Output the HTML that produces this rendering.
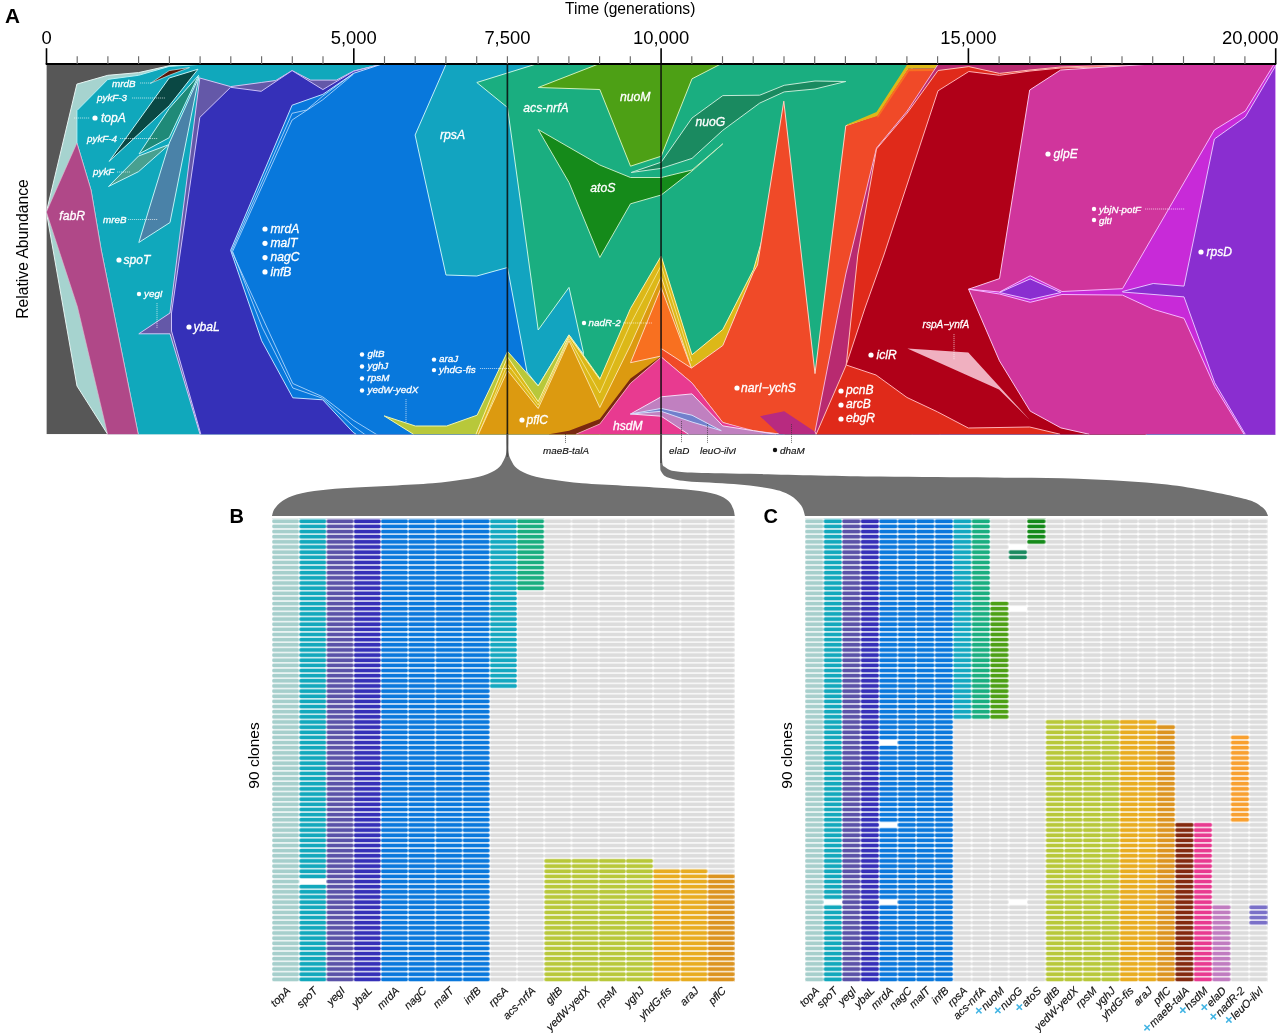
<!DOCTYPE html>
<html><head><meta charset="utf-8"><title>Figure</title>
<style>
html,body{margin:0;padding:0;background:#fff}
body{width:1280px;height:1033px;overflow:hidden}
svg{display:block}
svg text{font-family:"Liberation Sans",Arial,Helvetica,sans-serif}
.g{font-style:italic;fill:#fff;stroke:#fff;stroke-width:0.3px}
.k{font-style:italic;fill:#111;stroke:#111;stroke-width:0.15px}
</style></head><body>
<svg width="1280" height="1033" viewBox="0 0 1280 1033">
<rect width="1280" height="1033" fill="#fff"/>
<defs><clipPath id="pc"><rect x="46.4" y="64.4" width="1229.1" height="369.79999999999995"/></clipPath>
<pattern id="pb" patternUnits="userSpaceOnUse" x="272.00" y="518.70" width="27.224" height="5.1467"><path fill="#fff" fill-rule="evenodd" d="M0 0H27.224V5.1467H0Z M1.59 0.65H25.63Q27.03 0.65 27.03 2.05V3.10Q27.03 4.50 25.63 4.50H1.59Q0.19 4.50 0.19 3.10V2.05Q0.19 0.65 1.59 0.65Z"/></pattern>
<pattern id="pcg" patternUnits="userSpaceOnUse" x="805.10" y="518.70" width="18.504" height="5.1467"><path fill="#fff" fill-rule="evenodd" d="M0 0H18.504V5.1467H0Z M1.59 0.65H16.91Q18.31 0.65 18.31 2.05V3.10Q18.31 4.50 16.91 4.50H1.59Q0.19 4.50 0.19 3.10V2.05Q0.19 0.65 1.59 0.65Z"/></pattern>
</defs>
<g clip-path="url(#pc)" stroke-linejoin="round">
<rect x="46.4" y="64.4" width="1229.1" height="369.79999999999995" fill="#575757"/>
<polygon points="46.4,212.0 76.9,84.1 107.8,75.3 138.6,72.6 169.2,65.8 193.0,64.4 193.0,60.4 1275.5,60.4 1275.5,64.4 1275.5,434.2 1275.5,438.2 107.6,438.2 107.6,434.2 77.0,386.0" fill="#a6d3cf" stroke="#e6f4f2" stroke-width="1.0"/>
<polygon points="76.9,110.6 107.8,79.4 138.6,75.3 169.2,66.4 200.0,64.4 200.0,60.4 1275.5,60.4 1275.5,64.4 1275.5,434.2 1275.5,438.2 138.2,438.2 138.2,434.2 101.2,250.0 91.0,190.0 76.9,143.0" fill="#10a8bc" stroke="#b6f0f5" stroke-width="1.0"/>
<polygon points="46.4,212.0 76.9,143.0 91.0,190.0 101.2,250.0 138.2,434.2 138.2,438.2 107.6,438.2 107.6,434.2 77.5,307.0" fill="#b04888" stroke="#e5b6d0" stroke-width="0.6"/>
<polygon points="150.5,83.3 169.2,70.6 189.5,67.5 169.2,75.3" fill="#5a1808" stroke="#c0f1f5" stroke-width="0.7"/>
<polygon points="109.1,161.4 169.2,78.0 198.0,69.2 169.2,105.8" fill="#0a4844" stroke="#c0f1f5" stroke-width="1.0"/>
<polygon points="139.0,154.0 169.2,108.5 198.6,75.3 169.2,137.7" fill="#1f8a78" stroke="#c0f1f5" stroke-width="1.0"/>
<polygon points="108.5,186.5 138.6,156.0 169.2,144.5 138.6,171.6" fill="#48a090" stroke="#c0f1f5" stroke-width="1.0"/>
<polygon points="138.8,242.5 169.3,143.0 199.0,76.7 170.0,222.5" fill="#4a82a8" stroke="#c0f1f5" stroke-width="1.0"/>
<polygon points="199.8,78.0 230.6,86.6 261.2,82.5 275.7,80.5 292.1,70.6 310.7,80.1 336.4,80.1 353.6,71.0 381.0,64.4 381.0,60.4 1275.5,60.4 1275.5,64.4 1275.5,434.2 1275.5,438.2 200.0,438.2 200.0,434.2 170.0,333.8 138.8,333.8 170.0,313.0" fill="#6458a8" stroke="#d1c6f5" stroke-width="1.0"/>
<polygon points="199.8,117.4 230.6,87.3 261.2,91.3 292.1,70.6 322.9,89.6 353.6,71.3 381.0,64.4 381.0,60.4 1275.5,60.4 1275.5,64.4 1275.5,434.2 1275.5,438.2 200.8,438.2 200.8,434.2 171.5,331.0 171.5,313.0" fill="#3530b8" stroke="#cbc1fa" stroke-width="1.0"/>
<polygon points="230.6,250.3 292.1,105.2 322.9,94.3 353.6,73.3 381.0,64.4 381.0,60.4 1275.5,60.4 1275.5,64.4 1275.5,434.2 1275.5,438.2 356.0,438.2 356.0,434.2 353.2,432.4 322.7,399.8 292.8,397.8 261.7,340.8" fill="#0878dc" stroke="#c0e0ff" stroke-width="1.0"/>
<polyline points="382.7,438.2 353.2,420.2 322.7,396.8 292.8,383.5 231.6,251.0 292.1,113.3 306.6,110.0 322.9,96.0 353.6,73.3" fill="none" stroke="#c0e0ff" stroke-width="0.8"/>
<polyline points="370.0,438.2 353.2,426.0 322.7,398.3 292.8,388.0 262.0,327.0 232.6,251.5 292.1,120.0 322.9,99.7 353.6,74.0" fill="none" stroke="#c0e0ff" stroke-width="0.8"/>
<polygon points="446.0,64.4 446.0,60.4 600.0,60.4 600.0,64.4 600.0,300.0 583.3,354.0 569.0,334.9 538.2,386.0 527.0,372.0 507.5,267.5 476.8,276.0 446.0,275.0 415.1,135.0" fill="#12a4c0" stroke="#c1f0f7" stroke-width="1.0"/>
<polygon points="476.8,82.5 535.0,64.4 535.0,60.4 912.0,60.4 912.0,64.4 912.0,434.2 912.0,438.2 583.0,438.2 583.0,434.2 583.3,352.0 569.0,287.4 538.2,330.0 507.5,107.5" fill="#1aae80" stroke="#c6f5e0" stroke-width="1.0"/>
<polygon points="538.2,87.5 597.5,64.4 597.5,60.4 720.0,60.4 720.0,64.4 692.0,78.8 661.2,156.2 630.5,166.2 599.8,89.5" fill="#4da015" stroke="#d0f0b6" stroke-width="1.0"/>
<polygon points="538.2,129.5 599.8,165.0 630.5,177.5 661.2,177.5 692.0,170.0 722.8,143.8 692.0,171.0 661.2,195.0 630.5,203.8 599.8,257.5 569.0,182.5" fill="#158a1a" stroke="#c1eac1" stroke-width="1.0"/>
<polygon points="631.2,172.5 661.2,162.2 692.0,118.0 722.8,95.6 759.7,95.2 784.2,85.3 815.0,81.0 845.8,81.5 815.0,89.0 784.2,91.9 759.7,103.1 722.8,130.3 692.0,158.4 661.2,168.4" fill="#1a8a60" stroke="#c1ead6" stroke-width="1.0"/>
<polygon points="384.2,415.9 415.4,426.0 446.6,426.0 477.1,415.2 507.6,351.5 538.2,386.0 569.0,334.9 599.8,378.4 599.8,434.2 599.8,438.2 413.4,438.2 413.4,434.2" fill="#b8c83a" stroke="#f0f5b1" stroke-width="1.0"/>
<polygon points="476.0,434.2 507.6,357.0 538.2,401.7 569.0,336.2 599.8,379.4 630.5,308.5 661.2,256.0 692.0,354.8 722.8,329.5 753.5,269.5 762.0,240.0 762.0,434.2 762.0,438.2 476.0,438.2" fill="#dcb818" stroke="#faf0ac" stroke-width="1.0"/>
<polyline points="477.0,438.2 507.6,364.0 538.2,405.0 569.0,338.5 599.8,393.0 630.5,324.0 661.2,265.5 691.7,361.0" fill="none" stroke="#faf0ac" stroke-width="0.7"/>
<polygon points="478.5,434.2 507.6,370.5 538.2,408.5 569.0,340.7 599.8,407.5 630.5,345.0 661.2,276.6 691.4,368.1 661.2,356.2 661.2,434.2 661.2,438.2 478.5,438.2" fill="#dc9a10" stroke="#fae0a2" stroke-width="1.0"/>
<polygon points="630.5,362.7 661.2,287.5 691.4,368.1 661.2,356.0" fill="#f87020" stroke="#ffd6b6" stroke-width="1.0"/>
<polygon points="661.2,348.5 691.4,368.1 722.8,345.5 753.5,272.0 757.5,265.0 783.8,101.2 815.0,373.6 845.8,125.7 876.5,115.0 907.2,69.5 940.0,69.5 940.0,434.2 940.0,438.2 784.2,438.2 784.2,434.2 753.5,431.7 722.8,422.5 692.0,383.0 661.2,357.0" fill="#f04a28" stroke="#ffd0c1" stroke-width="1.0"/>
<polygon points="847.0,124.5 876.5,112.0 907.2,64.4 907.2,60.4 938.0,60.4 938.0,64.4 935.5,68.2 908.2,68.6 877.2,116.0 847.0,125.5" fill="#dcb818"/>
<polygon points="877.2,116.0 908.2,68.6 935.5,68.2 933.5,71.0 909.0,71.2 877.8,118.0" fill="#f87020"/>
<polygon points="549.0,434.2 569.0,430.7 599.8,419.0 630.5,378.4 661.2,356.2 661.2,357.0 630.5,383.3 599.8,424.0 576.0,434.2 576.0,438.2 549.0,438.2" fill="#7a2810"/>
<polygon points="576.0,434.2 599.8,424.0 630.5,383.3 661.2,357.0 692.0,383.0 722.8,422.5 753.5,430.7 780.0,434.2 780.0,438.2 576.0,438.2" fill="#e83a90" stroke="#fac6e0" stroke-width="0.7"/>
<polygon points="630.5,414.0 661.2,396.8 692.0,393.9 722.8,425.9 753.5,430.7 775.5,434.2 775.5,438.2 688.4,438.2 688.4,434.2 661.2,416.2" fill="#c080c0" stroke="#f5dbf5" stroke-width="1.0"/>
<polygon points="630.5,414.0 661.2,408.4 692.0,415.2 721.3,430.7 692.0,422.0 661.2,411.3" fill="#7080cc" stroke="#d6dbfa" stroke-width="1.0"/>
<polygon points="760.0,416.2 784.2,411.3 815.0,431.7 815.0,434.2 815.0,438.2 779.4,438.2 779.4,434.2" fill="#b82a80"/>
<polygon points="815.0,431.7 845.8,274.0 876.5,148.0 907.2,111.0 938.0,64.4 938.0,60.4 1146.0,60.4 1146.0,64.4 1146.0,434.2 1146.0,438.2 816.2,438.2 816.2,434.2" fill="#b82a70" stroke="#f5b1d6" stroke-width="1.0"/>
<polygon points="816.2,434.2 840.0,379.4 846.2,365.0 857.8,255.0 876.5,149.0 907.2,113.0 938.0,70.5 968.8,66.6 999.5,73.4 1030.0,70.0 1060.6,67.0 1146.0,64.4 1146.0,434.2 1146.0,438.2 816.2,438.2" fill="#e02a1a" stroke="#ffbdb6" stroke-width="1.0"/>
<polygon points="846.2,365.0 865.0,308.0 883.9,255.0 938.0,90.8 968.8,71.5 999.5,75.3 1030.0,71.0 1060.6,68.0 1146.0,66.0 1146.0,434.2 1146.0,438.2 1060.0,438.2 1060.0,434.2 1029.7,427.0 968.3,428.0 937.4,411.8 907.0,397.5 876.0,375.0" fill="#b00018" stroke="#ffb1b6" stroke-width="1.0"/>
<polygon points="907.4,348.6 968.3,352.4 1029.7,419.8 999.0,389.5" fill="#f0b0c0"/>
<polygon points="968.6,289.2 999.5,278.6 1029.7,90.0 1060.6,70.0 1146.0,64.4 1146.0,60.4 1275.5,60.4 1275.5,64.4 1275.5,434.2 1275.5,438.2 1089.0,438.2 1089.0,434.2 1060.9,427.9 1030.2,411.1 999.5,360.9" fill="#d0359c" stroke="#fac1ea" stroke-width="1.0"/>
<polygon points="968.6,289.2 999.5,292.0 1030.2,275.8 1062.0,291.5 1122.5,288.7 1214.4,130.0 1245.3,111.0 1274.0,64.4 1274.0,60.4 1275.5,60.4 1275.5,64.4 1275.5,434.2 1275.5,438.2 1244.0,438.2 1244.0,434.2 1214.7,386.6 1184.0,318.3 1153.2,309.3 1122.5,295.1 1062.0,294.5 1030.2,302.3 999.5,294.0" fill="#c82ad8" stroke="#f5b6ff" stroke-width="1.0"/>
<polygon points="1122.5,291.5 1153.2,283.5 1184.0,286.1 1214.4,139.0 1245.3,117.0 1275.5,66.0 1275.5,434.2 1275.5,438.2 1245.2,438.2 1245.2,434.2 1214.7,382.8 1184.0,296.9 1122.5,292.0" fill="#8a2ed0" stroke="#e5c1ff" stroke-width="1.0"/>
<polygon points="999.5,292.5 1030.2,278.9 1060.9,292.5 1030.2,299.5" fill="#8a2ed0" stroke="#e5c1ff" stroke-width="1.0"/>
</g>
<g stroke="#000">
<line x1="45.699999999999996" y1="64.05" x2="1276.2" y2="64.05" stroke-width="1.9"/>
<line x1="46.5" y1="48.2" x2="46.5" y2="64" stroke-width="1.6"/>
<line x1="77.2" y1="56.2" x2="77.2" y2="64" stroke="#6a6a6a" stroke-width="1.15"/>
<line x1="107.9" y1="56.2" x2="107.9" y2="64" stroke="#6a6a6a" stroke-width="1.15"/>
<line x1="138.6" y1="56.2" x2="138.6" y2="64" stroke="#6a6a6a" stroke-width="1.15"/>
<line x1="169.4" y1="56.2" x2="169.4" y2="64" stroke="#6a6a6a" stroke-width="1.15"/>
<line x1="200.1" y1="56.2" x2="200.1" y2="64" stroke="#6a6a6a" stroke-width="1.15"/>
<line x1="230.8" y1="56.2" x2="230.8" y2="64" stroke="#6a6a6a" stroke-width="1.15"/>
<line x1="261.6" y1="56.2" x2="261.6" y2="64" stroke="#6a6a6a" stroke-width="1.15"/>
<line x1="292.3" y1="56.2" x2="292.3" y2="64" stroke="#6a6a6a" stroke-width="1.15"/>
<line x1="323.0" y1="56.2" x2="323.0" y2="64" stroke="#6a6a6a" stroke-width="1.15"/>
<line x1="353.8" y1="48.2" x2="353.8" y2="64" stroke-width="1.6"/>
<line x1="384.5" y1="56.2" x2="384.5" y2="64" stroke="#6a6a6a" stroke-width="1.15"/>
<line x1="415.2" y1="56.2" x2="415.2" y2="64" stroke="#6a6a6a" stroke-width="1.15"/>
<line x1="445.9" y1="56.2" x2="445.9" y2="64" stroke="#6a6a6a" stroke-width="1.15"/>
<line x1="476.7" y1="56.2" x2="476.7" y2="64" stroke="#6a6a6a" stroke-width="1.15"/>
<line x1="507.4" y1="56.2" x2="507.4" y2="64" stroke="#6a6a6a" stroke-width="1.15"/>
<line x1="538.1" y1="56.2" x2="538.1" y2="64" stroke="#6a6a6a" stroke-width="1.15"/>
<line x1="568.9" y1="56.2" x2="568.9" y2="64" stroke="#6a6a6a" stroke-width="1.15"/>
<line x1="599.6" y1="56.2" x2="599.6" y2="64" stroke="#6a6a6a" stroke-width="1.15"/>
<line x1="630.3" y1="56.2" x2="630.3" y2="64" stroke="#6a6a6a" stroke-width="1.15"/>
<line x1="661.1" y1="48.2" x2="661.1" y2="64" stroke-width="1.6"/>
<line x1="691.8" y1="56.2" x2="691.8" y2="64" stroke="#6a6a6a" stroke-width="1.15"/>
<line x1="722.5" y1="56.2" x2="722.5" y2="64" stroke="#6a6a6a" stroke-width="1.15"/>
<line x1="753.2" y1="56.2" x2="753.2" y2="64" stroke="#6a6a6a" stroke-width="1.15"/>
<line x1="784.0" y1="56.2" x2="784.0" y2="64" stroke="#6a6a6a" stroke-width="1.15"/>
<line x1="814.7" y1="56.2" x2="814.7" y2="64" stroke="#6a6a6a" stroke-width="1.15"/>
<line x1="845.4" y1="56.2" x2="845.4" y2="64" stroke="#6a6a6a" stroke-width="1.15"/>
<line x1="876.2" y1="56.2" x2="876.2" y2="64" stroke="#6a6a6a" stroke-width="1.15"/>
<line x1="906.9" y1="56.2" x2="906.9" y2="64" stroke="#6a6a6a" stroke-width="1.15"/>
<line x1="937.6" y1="56.2" x2="937.6" y2="64" stroke="#6a6a6a" stroke-width="1.15"/>
<line x1="968.4" y1="48.2" x2="968.4" y2="64" stroke-width="1.6"/>
<line x1="999.1" y1="56.2" x2="999.1" y2="64" stroke="#6a6a6a" stroke-width="1.15"/>
<line x1="1029.8" y1="56.2" x2="1029.8" y2="64" stroke="#6a6a6a" stroke-width="1.15"/>
<line x1="1060.5" y1="56.2" x2="1060.5" y2="64" stroke="#6a6a6a" stroke-width="1.15"/>
<line x1="1091.3" y1="56.2" x2="1091.3" y2="64" stroke="#6a6a6a" stroke-width="1.15"/>
<line x1="1122.0" y1="56.2" x2="1122.0" y2="64" stroke="#6a6a6a" stroke-width="1.15"/>
<line x1="1152.7" y1="56.2" x2="1152.7" y2="64" stroke="#6a6a6a" stroke-width="1.15"/>
<line x1="1183.5" y1="56.2" x2="1183.5" y2="64" stroke="#6a6a6a" stroke-width="1.15"/>
<line x1="1214.2" y1="56.2" x2="1214.2" y2="64" stroke="#6a6a6a" stroke-width="1.15"/>
<line x1="1244.9" y1="56.2" x2="1244.9" y2="64" stroke="#6a6a6a" stroke-width="1.15"/>
<line x1="1275.7" y1="48.2" x2="1275.7" y2="64" stroke-width="1.6"/>
</g>
<path fill="#707070" d="M506.54999999999995 433 L506.54999999999995 442 C506.5 443.7 506.9 449.1 506.4 452.2 C505.9 455.2 505.1 457.6 503.7 460.3 C502.2 463.0 501.1 465.9 497.7 468.4 C494.3 470.9 489.2 473.6 483.4 475.5 C477.6 477.4 471.6 478.3 463.1 479.6 C454.7 480.9 444.6 482.3 432.7 483.3 C420.8 484.3 405.6 485.0 392.0 485.7 C378.4 486.4 363.2 486.9 351.4 487.7 C339.5 488.4 330.0 489.1 320.9 490.2 C311.8 491.3 303.0 492.6 296.6 494.4 C290.2 496.2 286.0 498.4 282.3 500.9 C278.6 503.3 276.1 506.6 274.4 509.1 C272.7 511.6 272.4 514.9 272.0 516.0 L734.8 516 C734.5 514.9 734.3 511.6 733.3 509.1 C732.2 506.6 731.3 503.3 728.5 500.9 C725.7 498.4 722.4 496.2 716.5 494.4 C710.6 492.6 701.9 491.3 693.0 490.2 C684.1 489.1 675.1 488.6 663.4 487.9 C651.7 487.1 636.3 486.5 622.8 485.7 C609.2 484.9 594.0 484.3 582.1 483.3 C570.2 482.3 560.2 480.9 551.7 479.6 C543.2 478.3 537.2 477.4 531.4 475.5 C525.6 473.6 520.5 470.9 517.1 468.4 C513.7 465.9 512.6 463.0 511.1 460.3 C509.7 457.6 508.9 455.2 508.4 452.2 C507.9 449.1 508.3 443.7 508.2 442.0 L508.25 433Z"/>
<path fill="#707070" d="M662.0500000000001 433 L662.0500000000001 440 C662.1 443.8 661.8 458.0 662.3 462.5 C662.8 467.0 663.4 465.8 665.3 467.2 C667.2 468.6 668.6 470.1 673.8 471.0 C678.9 471.9 681.9 472.3 696.2 472.8 C710.6 473.3 729.4 473.5 760.0 474.1 C790.6 474.7 841.7 476.0 880.0 476.6 C918.3 477.2 957.0 477.2 990.0 477.6 C1023.0 478.0 1048.5 477.6 1078.0 478.8 C1107.5 480.0 1139.8 481.4 1167.0 484.6 C1194.2 487.8 1225.2 494.3 1241.0 498.0 C1256.8 501.7 1257.5 504.0 1262.0 507.0 C1266.5 510.0 1267.2 514.5 1268.2 516.0 L805 516 C804.4 514.3 803.8 509.1 801.2 505.6 C798.8 502.2 795.0 498.1 790.0 495.3 C785.0 492.5 780.6 490.6 771.2 488.8 C761.9 486.9 747.8 485.2 733.8 484.0 C719.7 482.8 698.0 482.3 687.0 481.2 C676.0 480.2 672.2 479.1 668.0 477.5 C663.8 475.9 662.8 473.9 661.5 471.9 C660.2 469.9 660.4 470.6 660.2 465.3 C660.0 460.0 660.3 444.2 660.4 440.0 L660.35 433Z"/>
<line x1="507.40" y1="64" x2="507.40" y2="434.2" stroke="#0b0b0b" stroke-width="1.65" opacity="0.85"/>
<line x1="507.40" y1="434.2" x2="507.40" y2="457" stroke="#4d4d4d" stroke-width="1.7"/>
<line x1="661.05" y1="64" x2="661.05" y2="434.2" stroke="#0b0b0b" stroke-width="1.65" opacity="0.85"/>
<line x1="661.05" y1="434.2" x2="661.05" y2="463" stroke="#4d4d4d" stroke-width="1.7"/>
<rect x="272.00" y="518.70" width="462.80" height="463.20" fill="#dcdcdc"/>
<rect x="272.00" y="518.70" width="27.22" height="463.20" fill="#a6cfcc"/>
<rect x="299.22" y="518.70" width="27.22" height="463.20" fill="#12a8bc"/>
<rect x="299.22" y="878.97" width="27.22" height="5.15" fill="#fff"/>
<rect x="326.45" y="518.70" width="27.22" height="463.20" fill="#5a52a8"/>
<rect x="353.67" y="518.70" width="27.22" height="463.20" fill="#3530b8"/>
<rect x="380.89" y="518.70" width="27.22" height="463.20" fill="#0a78dc"/>
<rect x="408.12" y="518.70" width="27.22" height="463.20" fill="#0a78dc"/>
<rect x="435.34" y="518.70" width="27.22" height="463.20" fill="#0a78dc"/>
<rect x="462.56" y="518.70" width="27.22" height="463.20" fill="#0a78dc"/>
<rect x="489.79" y="518.70" width="27.22" height="169.84" fill="#14a8c0"/>
<rect x="517.01" y="518.70" width="27.22" height="72.05" fill="#1aae80"/>
<rect x="544.24" y="858.38" width="27.22" height="123.52" fill="#b8c83a"/>
<rect x="571.46" y="858.38" width="27.22" height="123.52" fill="#b8c83a"/>
<rect x="598.68" y="858.38" width="27.22" height="123.52" fill="#b8c83a"/>
<rect x="625.91" y="858.38" width="27.22" height="123.52" fill="#b8c83a"/>
<rect x="653.13" y="868.67" width="27.22" height="113.23" fill="#e8ac20"/>
<rect x="680.35" y="868.67" width="27.22" height="113.23" fill="#e8ac20"/>
<rect x="707.58" y="873.82" width="27.22" height="108.08" fill="#dc9420"/>
<rect x="272.00" y="518.70" width="462.80" height="463.20" fill="url(#pb)"/>
<rect x="805.10" y="518.70" width="462.60" height="463.20" fill="#dcdcdc"/>
<rect x="805.10" y="518.70" width="18.50" height="463.20" fill="#a6cfcc"/>
<rect x="823.60" y="518.70" width="18.50" height="463.20" fill="#12a8bc"/>
<rect x="823.60" y="899.55" width="18.50" height="5.15" fill="#fff"/>
<rect x="842.11" y="518.70" width="18.50" height="463.20" fill="#5a52a8"/>
<rect x="860.61" y="518.70" width="18.50" height="463.20" fill="#3530b8"/>
<rect x="879.12" y="518.70" width="18.50" height="463.20" fill="#0a78dc"/>
<rect x="879.12" y="740.01" width="18.50" height="5.15" fill="#fff"/>
<rect x="879.12" y="822.35" width="18.50" height="5.15" fill="#fff"/>
<rect x="879.12" y="899.55" width="18.50" height="5.15" fill="#fff"/>
<rect x="897.62" y="518.70" width="18.50" height="463.20" fill="#0a78dc"/>
<rect x="916.12" y="518.70" width="18.50" height="463.20" fill="#0a78dc"/>
<rect x="934.63" y="518.70" width="18.50" height="463.20" fill="#0a78dc"/>
<rect x="953.13" y="518.70" width="18.50" height="200.72" fill="#14a8c0"/>
<rect x="971.64" y="518.70" width="18.50" height="200.72" fill="#1aae80"/>
<rect x="990.14" y="601.05" width="18.50" height="118.37" fill="#4da015"/>
<rect x="1008.64" y="549.58" width="18.50" height="10.29" fill="#1a8a60"/>
<rect x="1008.64" y="544.43" width="18.50" height="5.15" fill="#fff"/>
<rect x="1008.64" y="606.19" width="18.50" height="5.15" fill="#fff"/>
<rect x="1008.64" y="899.55" width="18.50" height="5.15" fill="#fff"/>
<rect x="1027.15" y="518.70" width="18.50" height="25.73" fill="#158a1a"/>
<rect x="1045.65" y="719.42" width="18.50" height="262.48" fill="#b8c83a"/>
<rect x="1064.16" y="719.42" width="18.50" height="262.48" fill="#b8c83a"/>
<rect x="1082.66" y="719.42" width="18.50" height="262.48" fill="#b8c83a"/>
<rect x="1101.16" y="719.42" width="18.50" height="262.48" fill="#b8c83a"/>
<rect x="1119.67" y="719.42" width="18.50" height="262.48" fill="#e8ac20"/>
<rect x="1138.17" y="719.42" width="18.50" height="262.48" fill="#e8ac20"/>
<rect x="1156.68" y="724.57" width="18.50" height="257.33" fill="#dc9420"/>
<rect x="1175.18" y="822.35" width="18.50" height="159.55" fill="#84290f"/>
<rect x="1193.68" y="822.35" width="18.50" height="159.55" fill="#e83a90"/>
<rect x="1212.19" y="904.70" width="18.50" height="77.20" fill="#c07cc0"/>
<rect x="1230.69" y="734.86" width="18.50" height="87.49" fill="#f8a030"/>
<rect x="1249.20" y="904.70" width="18.50" height="20.59" fill="#7a70c8"/>
<rect x="805.10" y="518.70" width="462.60" height="463.20" fill="url(#pcg)"/>
<text class="k" font-size="11" text-anchor="end" transform="translate(291.1,991.4) rotate(-45)">topA</text>
<text class="k" font-size="11" text-anchor="end" transform="translate(318.3,991.4) rotate(-45)">spoT</text>
<text class="k" font-size="11" text-anchor="end" transform="translate(345.6,991.4) rotate(-45)">yegI</text>
<text class="k" font-size="11" text-anchor="end" transform="translate(372.8,991.4) rotate(-45)">ybaL</text>
<text class="k" font-size="11" text-anchor="end" transform="translate(400.0,991.4) rotate(-45)">mrdA</text>
<text class="k" font-size="11" text-anchor="end" transform="translate(427.2,991.4) rotate(-45)">nagC</text>
<text class="k" font-size="11" text-anchor="end" transform="translate(454.5,991.4) rotate(-45)">malT</text>
<text class="k" font-size="11" text-anchor="end" transform="translate(481.7,991.4) rotate(-45)">infB</text>
<text class="k" font-size="11" text-anchor="end" transform="translate(508.9,991.4) rotate(-45)">rpsA</text>
<text class="k" font-size="11" text-anchor="end" transform="translate(536.1,991.4) rotate(-45)">acs-nrfA</text>
<text class="k" font-size="11" text-anchor="end" transform="translate(563.3,991.4) rotate(-45)">gltB</text>
<text class="k" font-size="11" text-anchor="end" transform="translate(590.6,991.4) rotate(-45)">yedW-yedX</text>
<text class="k" font-size="11" text-anchor="end" transform="translate(617.8,991.4) rotate(-45)">rpsM</text>
<text class="k" font-size="11" text-anchor="end" transform="translate(645.0,991.4) rotate(-45)">yghJ</text>
<text class="k" font-size="11" text-anchor="end" transform="translate(672.2,991.4) rotate(-45)">yhdG-fis</text>
<text class="k" font-size="11" text-anchor="end" transform="translate(699.5,991.4) rotate(-45)">araJ</text>
<text class="k" font-size="11" text-anchor="end" transform="translate(726.7,991.4) rotate(-45)">pflC</text>
<text class="k" font-size="11" text-anchor="end" transform="translate(819.9,991.4) rotate(-45)">topA</text>
<text class="k" font-size="11" text-anchor="end" transform="translate(838.4,991.4) rotate(-45)">spoT</text>
<text class="k" font-size="11" text-anchor="end" transform="translate(856.9,991.4) rotate(-45)">yegI</text>
<text class="k" font-size="11" text-anchor="end" transform="translate(875.4,991.4) rotate(-45)">ybaL</text>
<text class="k" font-size="11" text-anchor="end" transform="translate(893.9,991.4) rotate(-45)">mrdA</text>
<text class="k" font-size="11" text-anchor="end" transform="translate(912.4,991.4) rotate(-45)">nagC</text>
<text class="k" font-size="11" text-anchor="end" transform="translate(930.9,991.4) rotate(-45)">malT</text>
<text class="k" font-size="11" text-anchor="end" transform="translate(949.4,991.4) rotate(-45)">infB</text>
<text class="k" font-size="11" text-anchor="end" transform="translate(967.9,991.4) rotate(-45)">rpsA</text>
<text class="k" font-size="11" text-anchor="end" transform="translate(986.4,991.4) rotate(-45)">acs-nrfA</text>
<text class="k" font-size="11" text-anchor="end" transform="translate(1004.9,991.4) rotate(-45)"><tspan fill="#38b0e2" stroke="#38b0e2" stroke-width="0.35" font-style="normal" font-size="14.5">+</tspan><tspan dx="0.3">nuoM</tspan></text>
<text class="k" font-size="11" text-anchor="end" transform="translate(1023.4,991.4) rotate(-45)"><tspan fill="#38b0e2" stroke="#38b0e2" stroke-width="0.35" font-style="normal" font-size="14.5">+</tspan><tspan dx="0.3">nuoG</tspan></text>
<text class="k" font-size="11" text-anchor="end" transform="translate(1041.9,991.4) rotate(-45)"><tspan fill="#38b0e2" stroke="#38b0e2" stroke-width="0.35" font-style="normal" font-size="14.5">+</tspan><tspan dx="0.3">atoS</tspan></text>
<text class="k" font-size="11" text-anchor="end" transform="translate(1060.4,991.4) rotate(-45)">gltB</text>
<text class="k" font-size="11" text-anchor="end" transform="translate(1078.9,991.4) rotate(-45)">yedW-yedX</text>
<text class="k" font-size="11" text-anchor="end" transform="translate(1097.4,991.4) rotate(-45)">rpsM</text>
<text class="k" font-size="11" text-anchor="end" transform="translate(1115.9,991.4) rotate(-45)">yghJ</text>
<text class="k" font-size="11" text-anchor="end" transform="translate(1134.4,991.4) rotate(-45)">yhdG-fis</text>
<text class="k" font-size="11" text-anchor="end" transform="translate(1152.9,991.4) rotate(-45)">araJ</text>
<text class="k" font-size="11" text-anchor="end" transform="translate(1171.4,991.4) rotate(-45)">pflC</text>
<text class="k" font-size="11" text-anchor="end" transform="translate(1189.9,991.4) rotate(-45)"><tspan fill="#38b0e2" stroke="#38b0e2" stroke-width="0.35" font-style="normal" font-size="14.5">+</tspan><tspan dx="0.3">maeB-talA</tspan></text>
<text class="k" font-size="11" text-anchor="end" transform="translate(1208.4,991.4) rotate(-45)"><tspan fill="#38b0e2" stroke="#38b0e2" stroke-width="0.35" font-style="normal" font-size="14.5">+</tspan><tspan dx="0.3">hsdM</tspan></text>
<text class="k" font-size="11" text-anchor="end" transform="translate(1226.9,991.4) rotate(-45)"><tspan fill="#38b0e2" stroke="#38b0e2" stroke-width="0.35" font-style="normal" font-size="14.5">+</tspan><tspan dx="0.3">elaD</tspan></text>
<text class="k" font-size="11" text-anchor="end" transform="translate(1245.4,991.4) rotate(-45)"><tspan fill="#38b0e2" stroke="#38b0e2" stroke-width="0.35" font-style="normal" font-size="14.5">+</tspan><tspan dx="0.3">nadR-2</tspan></text>
<text class="k" font-size="11" text-anchor="end" transform="translate(1263.9,991.4) rotate(-45)"><tspan fill="#38b0e2" stroke="#38b0e2" stroke-width="0.35" font-style="normal" font-size="14.5">+</tspan><tspan dx="0.3">leuO-ilvI</tspan></text>
<text x="630.2" y="13.8" font-size="15.6" text-anchor="middle" fill="#000">Time (generations)</text>
<text x="46.5" y="44" font-size="18.4" text-anchor="middle" fill="#000">0</text>
<text x="353.8" y="44" font-size="18.4" text-anchor="middle" fill="#000">5,000</text>
<text x="507.4" y="44" font-size="18.4" text-anchor="middle" fill="#000">7,500</text>
<text x="661.1" y="44" font-size="18.4" text-anchor="middle" fill="#000">10,000</text>
<text x="968.4" y="44" font-size="18.4" text-anchor="middle" fill="#000">15,000</text>
<text x="1278.6" y="44" font-size="18.5" text-anchor="end" fill="#000">20,000</text>
<text x="5" y="22.5" font-size="20.7" font-weight="bold" fill="#000">A</text>
<text x="229.6" y="523" font-size="20" font-weight="bold" fill="#000">B</text>
<text x="763.5" y="523" font-size="20" font-weight="bold" fill="#000">C</text>
<text transform="translate(27.5,249) rotate(-90)" font-size="15.7" text-anchor="middle" fill="#000">Relative Abundance</text>
<text transform="translate(259.2,755.5) rotate(-90)" font-size="15.5" text-anchor="middle" fill="#000">90 clones</text>
<text transform="translate(792.3,755.5) rotate(-90)" font-size="15.5" text-anchor="middle" fill="#000">90 clones</text>
<text class="g" x="59.3" y="220" font-size="12.2">fabR</text>
<text class="g" x="112" y="86.5" font-size="9.85" stroke-width="0.18">mrdB</text>
<line x1="140" y1="83" x2="152" y2="83" stroke="#fff" stroke-width="0.7" stroke-dasharray="1.2,0.8" opacity="0.85"/>
<text class="g" x="97" y="100.9" font-size="9.85" stroke-width="0.18">pykF-3</text>
<line x1="132" y1="98" x2="165" y2="98" stroke="#fff" stroke-width="0.7" stroke-dasharray="1.2,0.8" opacity="0.85"/>
<circle cx="95" cy="118" r="2.6" fill="#fff"/>
<text class="g" x="101" y="121.7" font-size="12.1">topA</text>
<line x1="74" y1="118" x2="90" y2="118" stroke="#fff" stroke-width="0.7" stroke-dasharray="1.2,0.8" opacity="0.85"/>
<text class="g" x="87" y="142" font-size="9.85" stroke-width="0.18">pykF-4</text>
<line x1="120" y1="138.5" x2="158" y2="138.5" stroke="#fff" stroke-width="0.7" stroke-dasharray="1.2,0.8" opacity="0.85"/>
<text class="g" x="93" y="174.6" font-size="9.85" stroke-width="0.18">pykF</text>
<line x1="117" y1="172" x2="130" y2="172" stroke="#fff" stroke-width="0.7" stroke-dasharray="1.2,0.8" opacity="0.85"/>
<text class="g" x="103" y="223" font-size="9.85" stroke-width="0.18">mreB</text>
<line x1="128" y1="219.5" x2="158" y2="219.5" stroke="#fff" stroke-width="0.7" stroke-dasharray="1.2,0.8" opacity="0.85"/>
<circle cx="119" cy="260" r="2.6" fill="#fff"/>
<text class="g" x="123.5" y="263.7" font-size="12.1">spoT</text>
<circle cx="139" cy="294" r="2.2" fill="#fff"/>
<text class="g" x="144" y="297" font-size="9.85" stroke-width="0.18">yegI</text>
<line x1="157" y1="303" x2="157" y2="328" stroke="#fff" stroke-width="0.7" stroke-dasharray="1.2,0.8" opacity="0.85"/>
<circle cx="189" cy="327" r="2.6" fill="#fff"/>
<text class="g" x="193.5" y="330.7" font-size="12.1">ybaL</text>
<circle cx="265" cy="229.0" r="2.6" fill="#fff"/>
<text class="g" x="270.5" y="232.7" font-size="12.1">mrdA</text>
<circle cx="265" cy="243.3" r="2.6" fill="#fff"/>
<text class="g" x="270.5" y="247.0" font-size="12.1">malT</text>
<circle cx="265" cy="257.6" r="2.6" fill="#fff"/>
<text class="g" x="270.5" y="261.3" font-size="12.1">nagC</text>
<circle cx="265" cy="271.9" r="2.6" fill="#fff"/>
<text class="g" x="270.5" y="275.6" font-size="12.1">infB</text>
<circle cx="362" cy="354.5" r="2.2" fill="#fff"/>
<text class="g" x="367.5" y="357.4" font-size="9.85" stroke-width="0.18">gltB</text>
<circle cx="362" cy="366.5" r="2.2" fill="#fff"/>
<text class="g" x="367.5" y="369.4" font-size="9.85" stroke-width="0.18">yghJ</text>
<circle cx="362" cy="378.5" r="2.2" fill="#fff"/>
<text class="g" x="367.5" y="381.4" font-size="9.85" stroke-width="0.18">rpsM</text>
<circle cx="362" cy="390.5" r="2.2" fill="#fff"/>
<text class="g" x="367.5" y="393.4" font-size="9.85" stroke-width="0.18">yedW-yedX</text>
<line x1="406" y1="399" x2="406" y2="422" stroke="#fff" stroke-width="0.7" stroke-dasharray="1.2,0.8" opacity="0.85"/>
<circle cx="434" cy="359.6" r="2.2" fill="#fff"/>
<text class="g" x="439" y="362.4" font-size="9.85" stroke-width="0.18">araJ</text>
<circle cx="434" cy="370.1" r="2.2" fill="#fff"/>
<text class="g" x="439" y="372.7" font-size="9.85" stroke-width="0.18">yhdG-fis</text>
<line x1="480" y1="368.5" x2="511" y2="368.5" stroke="#fff" stroke-width="0.7" stroke-dasharray="1.2,0.8" opacity="0.85"/>
<text class="g" x="440" y="139" font-size="12.2">rpsA</text>
<text class="g" x="523.3" y="112" font-size="12.2">acs-nrfA</text>
<text class="g" x="620" y="101" font-size="12.2">nuoM</text>
<text class="g" x="590.3" y="191.5" font-size="12.2">atoS</text>
<text class="g" x="695.5" y="125.5" font-size="12.2">nuoG</text>
<circle cx="584" cy="323" r="2.2" fill="#fff"/>
<text class="g" x="588.5" y="326" font-size="9.85" stroke-width="0.18">nadR-2</text>
<line x1="623" y1="323" x2="652" y2="323" stroke="#fff" stroke-width="0.7" stroke-dasharray="1.2,0.8" opacity="0.85"/>
<circle cx="522" cy="420" r="2.6" fill="#fff"/>
<text class="g" x="526.5" y="423.7" font-size="12.1">pflC</text>
<text class="g" x="613" y="429.7" font-size="12.1">hsdM</text>
<circle cx="737" cy="388" r="2.6" fill="#fff"/>
<text class="g" x="741" y="391.7" font-size="12.1">narI&#8722;ychS</text>
<circle cx="871" cy="355" r="2.6" fill="#fff"/>
<text class="g" x="876.5" y="358.7" font-size="12.1">iclR</text>
<circle cx="841" cy="391" r="2.6" fill="#fff"/>
<text class="g" x="846" y="394.3" font-size="12.1">pcnB</text>
<circle cx="841" cy="405" r="2.6" fill="#fff"/>
<text class="g" x="846" y="408.3" font-size="12.1">arcB</text>
<circle cx="841" cy="419" r="2.6" fill="#fff"/>
<text class="g" x="846" y="422.3" font-size="12.1">ebgR</text>
<text class="g" x="922.6" y="328.3" font-size="10.05" stroke-width="0.18">rspA&#8722;ynfA</text>
<line x1="954" y1="334" x2="954" y2="360" stroke="#fff" stroke-width="0.7" stroke-dasharray="1.2,0.8" opacity="0.85"/>
<circle cx="1048" cy="154" r="2.6" fill="#fff"/>
<text class="g" x="1053.5" y="157.7" font-size="12.1">glpE</text>
<circle cx="1094" cy="209" r="2.2" fill="#fff"/>
<text class="g" x="1099" y="212.5" font-size="9.7" stroke-width="0.18">ybjN-potF</text>
<line x1="1145" y1="209" x2="1185" y2="209" stroke="#fff" stroke-width="0.7" stroke-dasharray="1.2,0.8" opacity="0.85"/>
<circle cx="1094" cy="220" r="2.2" fill="#fff"/>
<text class="g" x="1099" y="223.5" font-size="9.7" stroke-width="0.18">gltI</text>
<circle cx="1201" cy="252" r="2.6" fill="#fff"/>
<text class="g" x="1206.5" y="255.7" font-size="12.1">rpsD</text>
<text class="k" x="543" y="453.5" font-size="9.85" stroke-width="0.18">maeB-talA</text>
<line x1="565.5" y1="434" x2="565.5" y2="443" stroke="#222" stroke-width="0.7" stroke-dasharray="1.2,0.8" opacity="0.85"/>
<text class="k" x="669" y="453.5" font-size="9.85" stroke-width="0.18">elaD</text>
<line x1="681.5" y1="421" x2="681.5" y2="443" stroke="#333" stroke-width="0.7" stroke-dasharray="1.2,0.8" opacity="0.85"/>
<text class="k" x="700" y="453.5" font-size="9.85" stroke-width="0.18">leuO-ilvI</text>
<line x1="707.5" y1="424" x2="707.5" y2="443" stroke="#333" stroke-width="0.7" stroke-dasharray="1.2,0.8" opacity="0.85"/>
<circle cx="775" cy="450" r="2.2" fill="#111"/>
<text class="k" x="780" y="453.5" font-size="9.85" stroke-width="0.18">dhaM</text>
<line x1="791.5" y1="424" x2="791.5" y2="443" stroke="#333" stroke-width="0.7" stroke-dasharray="1.2,0.8" opacity="0.85"/>
</svg>
</body></html>
